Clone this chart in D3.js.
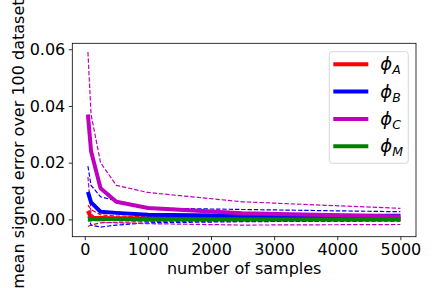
<!DOCTYPE html>
<html>
<head>
<meta charset="utf-8">
<script src="https://cdn.jsdelivr.net/npm/d3@7"></script>
<style>
  body { margin: 0; background: #fff; }
  text { font-family: "DejaVu Sans", sans-serif; fill: #000; }
</style>
</head>
<body>
<div id="chart"></div>
<script>
// number of samples on the x axis
var samples = [50, 100, 250, 500, 1000, 2500, 5000];

// mean signed error (solid) and its spread (dashed, upper / lower)
var meanA = [0.0030, 0.0006, 0.0005, 0.0004, 0.0003, 0.0002, 0.0002];
var upA   = [0.0050, 0.0035, 0.0016, 0.0012, 0.0009, 0.0007, 0.0006];
var loA   = [-0.0025, -0.0020, -0.0012, -0.0010, -0.0008, -0.0006, -0.0005];

var meanB = [0.0097, 0.0060, 0.0027, 0.0023, 0.0016, 0.0013, 0.0013];
var upB   = [0.0188, 0.0120, 0.0080, 0.0065, 0.0040, 0.0035, 0.0027];
var loB   = [0.0010, -0.0020, -0.0027, -0.0020, -0.0012, -0.0008, -0.0005];

var meanC = [0.0370, 0.0240, 0.0110, 0.0062, 0.0040, 0.0022, 0.0010];
var upC   = [0.0590, 0.0370, 0.0200, 0.0120, 0.0095, 0.0062, 0.0039];
var loC   = [0.0150, 0.0020, -0.0010, -0.0012, -0.0015, -0.0020, -0.0018];

var meanM = [0.0002, 0.0001, 0.0001, 0.0001, 0.0000, 0.0000, 0.0000];
var upM   = [0.0008, 0.0006, 0.0005, 0.0004, 0.0003, 0.0003, 0.0002];
var loM   = [-0.0006, -0.0005, -0.0004, -0.0003, -0.0003, -0.0002, -0.0002];

var xTicks = [0, 1000, 2000, 3000, 4000, 5000];
var yTicks = [0.00, 0.02, 0.04, 0.06];

var series = [
    { name: "A", color: "#ff0000", mean: meanA, up: upA, lo: loA },
    { name: "B", color: "#0000ff", mean: meanB, up: upB, lo: loB },
    { name: "C", color: "#bf00bf", mean: meanC, up: upC, lo: loC },
    { name: "M", color: "#008000", mean: meanM, up: upM, lo: loM }
];

var width = 432, height = 288;
var margin = { top: 43.3, right: 16, bottom: 51.3, left: 72.3 };
var w = width - margin.left - margin.right;
var h = height - margin.top - margin.bottom;

var svg = d3.select("#chart").append("svg")
    .attr("width", width).attr("height", height);

var g = svg.append("g")
    .attr("transform", "translate(" + margin.left + "," + margin.top + ")");

var x = d3.scaleLinear().domain([-197.5, 5247.5]).range([0, w]);
var y = d3.scaleLinear().domain([-0.0061, 0.0621]).range([h, 0]);

var line = d3.line()
    .x(function(d) { return x(d[0]); })
    .y(function(d) { return y(d[1]); });

function pts(vals) {
    return samples.map(function(s, i) { return [s, vals[i]]; });
}

// dashed spread lines first, thick means on top
series.forEach(function(s) {
    [s.up, s.lo].forEach(function(v) {
        g.append("path").attr("d", line(pts(v)))
            .attr("fill", "none").attr("stroke", s.color)
            .attr("stroke-width", 1.2).attr("stroke-dasharray", "4.4,1.9");
    });
});
series.forEach(function(s) {
    g.append("path").attr("d", line(pts(s.mean)))
        .attr("fill", "none").attr("stroke", s.color)
        .attr("stroke-width", 4).attr("stroke-linejoin", "round");
});

// axes
var xAxis = g.append("g").attr("transform", "translate(0," + h + ")")
    .call(d3.axisBottom(x).tickValues(xTicks).tickSize(3.5).tickPadding(3.5)
        .tickFormat(d3.format("d")));
var yAxis = g.append("g")
    .call(d3.axisLeft(y).tickValues(yTicks).tickSize(3.5).tickPadding(3.5)
        .tickFormat(d3.format(".2f")));
[xAxis, yAxis].forEach(function(a) {
    a.select(".domain").remove();
    a.selectAll("line").attr("stroke", "#000").attr("stroke-width", 0.8);
    a.selectAll("text").style("font-size", "16px")
        .style("font-family", "DejaVu Sans, sans-serif");
});

g.append("rect").attr("width", w).attr("height", h)
    .attr("fill", "none").attr("stroke", "#000").attr("stroke-width", 0.8);

svg.append("text").attr("x", margin.left + w / 2).attr("y", 274)
    .attr("text-anchor", "middle").style("font-size", "16px")
    .text("number of samples");
svg.append("text")
    .attr("transform", "translate(23.5," + (margin.top + h / 2) + ") rotate(-90)")
    .attr("text-anchor", "middle").style("font-size", "16px")
    .text("mean signed error over 100 datasets");

// legend
var lg = svg.append("g").attr("transform", "translate(329.3,51.7)");
lg.append("rect").attr("width", 79).attr("height", 111.6).attr("rx", 3)
    .attr("fill", "#fff").attr("fill-opacity", 0.8)
    .attr("stroke", "#cccccc").attr("stroke-width", 0.8);
series.forEach(function(s, i) {
    var yy = 12.6 + i * 27.3;
    lg.append("line").attr("x1", 4).attr("x2", 39).attr("y1", yy).attr("y2", yy)
        .attr("stroke", s.color).attr("stroke-width", 4);
    var t = lg.append("text").attr("x", 51).attr("y", yy + 6)
        .style("font-size", "18px").style("font-style", "italic");
    t.append("tspan").text("\u03d5");
    t.append("tspan").attr("dy", 4).style("font-size", "12.5px").text(s.name);
});
</script>
</body>
</html>
